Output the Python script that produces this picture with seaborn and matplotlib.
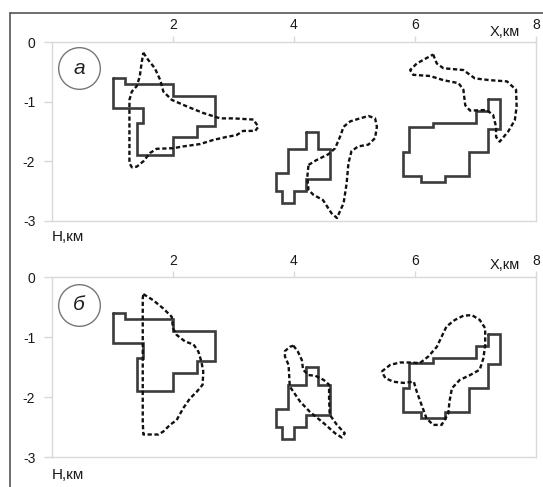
import matplotlib
matplotlib.use("Agg")
import matplotlib.pyplot as plt
import seaborn as sns
import pandas as pd
from matplotlib.lines import Line2D

# ---------------- data ----------------
x_ticks = [2, 4, 6, 8]
y_ticks = [0, -1, -2, -3]
y_tick_labels = ["0", "-1", "-2", "-3"]
panel_labels = ["а", "б"]

# solid step contours (same in both panels)
solid1_x = [1.0, 1.2, 1.2, 2.0, 2.0, 2.7, 2.7, 2.4, 2.4, 2.0, 2.0, 1.4, 1.4, 1.5, 1.5, 1.0, 1.0]
solid1_y = [-0.6, -0.6, -0.7, -0.7, -0.9, -0.9, -1.4, -1.4, -1.6, -1.6, -1.9, -1.9, -1.35, -1.35, -1.1, -1.1, -0.6]
solid2_x = [4.2, 4.4, 4.4, 4.6, 4.6, 4.2, 4.2, 4.0, 4.0, 3.8, 3.8, 3.7, 3.7, 3.9, 3.9, 4.2, 4.2]
solid2_y = [-1.5, -1.5, -1.8, -1.8, -2.3, -2.3, -2.5, -2.5, -2.7, -2.7, -2.5, -2.5, -2.2, -2.2, -1.8, -1.8, -1.5]
solid3_x = [7.2, 7.4, 7.4, 7.2, 7.2, 6.9, 6.9, 6.5, 6.5, 6.1, 6.1, 5.8, 5.8, 5.9, 5.9, 6.3, 6.3, 7.0, 7.0, 7.2, 7.2]
solid3_y = [-0.95, -0.95, -1.45, -1.45, -1.85, -1.85, -2.25, -2.25, -2.35, -2.35, -2.25, -2.25, -1.85, -1.85,
            -1.43, -1.43, -1.35, -1.35, -1.15, -1.15, -0.95]

# dashed contours, panel a
a_dash1_x = [1.51, 1.59, 1.70, 1.79, 1.84, 1.98, 2.23, 2.50, 2.78, 3.00, 3.33, 3.41, 3.36, 3.16, 3.05, 2.89, 2.67,
             2.45, 2.17, 2.00, 1.73, 1.62, 1.51, 1.40, 1.32, 1.28, 1.28, 1.28, 1.32, 1.40, 1.45, 1.48, 1.51]
a_dash1_y = [-0.18, -0.30, -0.44, -0.64, -0.83, -0.97, -1.08, -1.19, -1.28, -1.28, -1.30, -1.42, -1.49, -1.49, -1.56,
             -1.59, -1.64, -1.71, -1.75, -1.78, -1.79, -1.86, -2.00, -2.09, -2.10, -2.03, -1.53, -0.97, -0.83, -0.74,
             -0.58, -0.36, -0.18]
a_dash2_x = [4.24, 4.37, 4.57, 4.68, 4.76, 4.82, 4.93, 5.09, 5.23, 5.34, 5.37, 5.34, 5.23, 5.06, 4.95, 4.90, 4.87,
             4.82, 4.71, 4.62, 4.48, 4.32, 4.24, 4.22, 4.24]
a_dash2_y = [-2.06, -1.98, -1.88, -1.78, -1.59, -1.42, -1.33, -1.28, -1.24, -1.28, -1.42, -1.61, -1.72, -1.75, -1.83,
             -2.03, -2.37, -2.70, -2.95, -2.87, -2.65, -2.56, -2.48, -2.26, -2.06]
a_dash3_x = [6.30, 6.36, 6.47, 6.80, 6.99, 7.24, 7.52, 7.67, 7.68, 7.65, 7.54, 7.40, 7.34, 7.34, 7.29, 7.18, 6.91,
             6.83, 6.80, 6.72, 6.47, 6.25, 5.97, 5.92, 6.03, 6.19, 6.30]
a_dash3_y = [-0.21, -0.36, -0.44, -0.47, -0.61, -0.64, -0.66, -0.80, -1.08, -1.31, -1.50, -1.67, -1.59, -1.42, -1.22,
             -1.14, -1.15, -1.06, -0.80, -0.69, -0.64, -0.57, -0.55, -0.47, -0.36, -0.27, -0.21]

# dashed contours, panel b
b_dash1_x = [1.51, 1.67, 1.84, 1.98, 2.00, 2.06, 2.20, 2.34, 2.42, 2.47, 2.50, 2.49, 2.39, 2.28, 2.17, 2.06, 1.95,
             1.84, 1.76, 1.51, 1.50, 1.50, 1.50, 1.50, 1.51]
b_dash1_y = [-0.28, -0.38, -0.52, -0.66, -0.85, -0.96, -1.07, -1.12, -1.24, -1.41, -1.57, -1.79, -1.91, -2.02, -2.18,
             -2.38, -2.46, -2.57, -2.62, -2.62, -2.41, -1.68, -0.85, -0.35, -0.28]
b_dash2_x = [3.99, 4.06, 4.13, 4.15, 4.24, 4.35, 4.49, 4.58, 4.58, 4.59, 4.71, 4.84, 4.79, 4.68, 4.49, 4.26, 4.10,
             3.93, 3.92, 3.91, 3.85, 3.85, 3.93, 3.99]
b_dash2_y = [-1.14, -1.23, -1.38, -1.54, -1.63, -1.64, -1.71, -1.79, -2.02, -2.29, -2.46, -2.60, -2.67, -2.60, -2.43,
             -2.24, -2.07, -1.82, -1.63, -1.46, -1.32, -1.23, -1.16, -1.14]
b_dash3_x = [5.45, 5.59, 5.75, 5.92, 6.08, 6.22, 6.36, 6.44, 6.52, 6.66, 6.80, 6.94, 7.07, 7.16, 7.16, 7.13, 7.07,
             6.91, 6.74, 6.61, 6.57, 6.55, 6.44, 6.30, 6.19, 6.11, 6.03, 5.98, 5.81, 5.64, 5.51, 5.45]
b_dash3_y = [-1.57, -1.46, -1.42, -1.42, -1.43, -1.32, -1.16, -0.99, -0.82, -0.71, -0.64, -0.63, -0.71, -0.85, -1.13,
             -1.35, -1.54, -1.63, -1.71, -1.85, -2.07, -2.27, -2.46, -2.46, -2.35, -2.13, -1.91, -1.74, -1.76, -1.74,
             -1.68, -1.57]

solids = [(solid1_x, solid1_y), (solid2_x, solid2_y), (solid3_x, solid3_y)]
dashed = [
    [(a_dash1_x, a_dash1_y), (a_dash2_x, a_dash2_y), (a_dash3_x, a_dash3_y)],
    [(b_dash1_x, b_dash1_y), (b_dash2_x, b_dash2_y), (b_dash3_x, b_dash3_y)],
]

# ---------------- style ----------------
sns.set_theme(style="white")
plt.rcParams["font.family"] = ["Liberation Sans", "DejaVu Sans"]
plt.rcParams["axes.unicode_minus"] = False

fig = plt.figure(figsize=(5.43, 4.87), dpi=100)
axes_rects = [
    [52 / 543, 1 - 221 / 487, 484 / 543, 179 / 487],
    [52 / 543, 1 - 457.3 / 487, 484 / 543, 180 / 487],
]
h_label_y = [-0.089, -0.098]
x_label_y = [1.056, 1.068]
circle_y = [-0.44, -0.46]

grid_col = "#d9d9d9"
for i, rect in enumerate(axes_rects):
    ax = fig.add_axes(rect)
    ax.set_facecolor("white")
    for k, (sx, sy) in enumerate(solids):
        df = pd.DataFrame({"x": sx, "y": sy})
        sns.lineplot(data=df, x="x", y="y", sort=False, estimator=None, ax=ax,
                     color="#3c3c3c", linewidth=1.9, solid_joinstyle="miter")
    for dx, dy in dashed[i]:
        df = pd.DataFrame({"x": dx, "y": dy})
        sns.lineplot(data=df, x="x", y="y", sort=False, estimator=None, ax=ax,
                     color="#111111", linewidth=1.7, linestyle=(0, (1.8, 1.1)))
    # panel letter in circle
    ax.scatter([0.446], [circle_y[i]], s=900, facecolors="white", edgecolors="#777777", linewidths=1.0, zorder=3)
    ax.text(0.446, circle_y[i], panel_labels[i], ha="center", va="center", fontsize=15, style="italic",
            color="#222222", zorder=4)

    ax.set_xlim(0, 8)
    ax.set_ylim(-3, 0)
    ax.set_xticks(x_ticks)
    ax.set_xticklabels([str(t) for t in x_ticks])
    ax.set_yticks(y_ticks)
    ax.set_yticklabels(y_tick_labels)
    ax.xaxis.tick_top()
    ax.tick_params(axis="x", which="both", top=True, bottom=False, length=4, width=1, color=grid_col,
                   labelsize=10, pad=3, labelcolor="#1a1a1a")
    ax.tick_params(axis="y", which="both", left=True, length=6, width=1, color=grid_col,
                   labelsize=10, pad=6, labelcolor="#1a1a1a")
    for sp in ax.spines.values():
        sp.set_color(grid_col)
        sp.set_linewidth(1.0)
    ax.set_xlabel("")
    ax.set_ylabel("")
    ax.text(0.0, h_label_y[i], "Н,км", transform=ax.transAxes, ha="left", va="center", fontsize=11,
            color="#1a1a1a")
    ax.text(0.967, x_label_y[i], "X,км", transform=ax.transAxes, ha="right", va="center", fontsize=10.5,
            color="#1a1a1a")

# outer chart frame (top and left edges visible)
fig.add_artist(Line2D([10 / 543, 1.0], [1 - 12.5 / 487, 1 - 12.5 / 487], transform=fig.transFigure,
                      color="#555555", linewidth=1.2))
fig.add_artist(Line2D([10 / 543, 10 / 543], [1 - 12.5 / 487, 0.0], transform=fig.transFigure,
                      color="#555555", linewidth=1.2))

fig.savefig("out.png", dpi=100, facecolor="white")
